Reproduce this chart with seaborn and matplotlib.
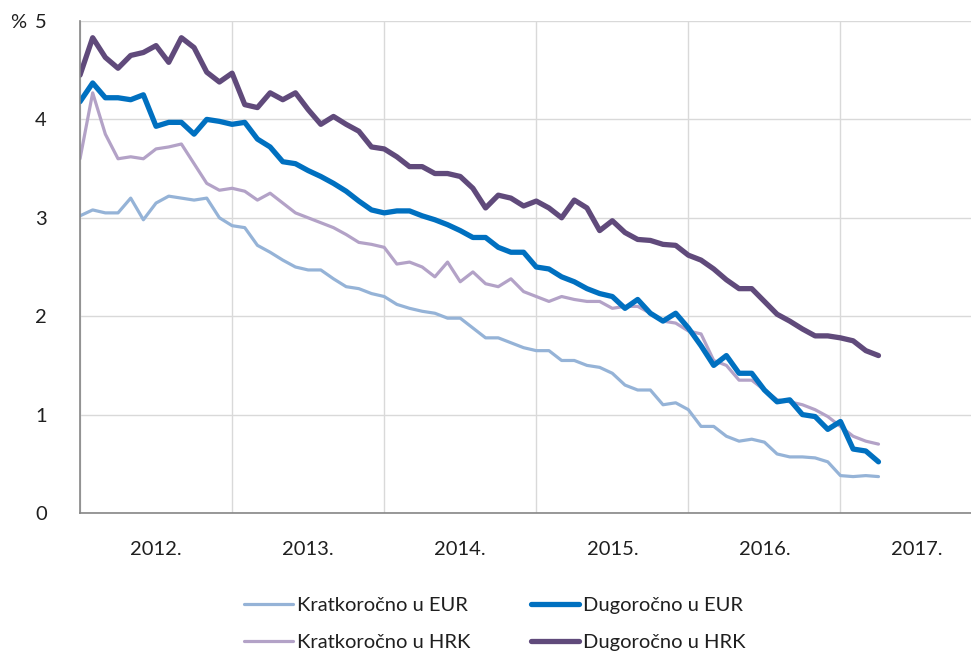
import numpy as np
import pandas as pd
import matplotlib
matplotlib.use("Agg")
import matplotlib.pyplot as plt
import seaborn as sns

# Monthly data, Jan 2012 - Apr 2017
kratko_eur = [3.02, 3.08, 3.05, 3.05, 3.20, 2.98, 3.15, 3.22, 3.20, 3.18, 3.20, 3.00,
              2.92, 2.90, 2.72, 2.65, 2.57, 2.50, 2.47, 2.47, 2.38, 2.30, 2.28, 2.23,
              2.20, 2.12, 2.08, 2.05, 2.03, 1.98, 1.98, 1.88, 1.78, 1.78, 1.73, 1.68,
              1.65, 1.65, 1.55, 1.55, 1.50, 1.48, 1.42, 1.30, 1.25, 1.25, 1.10, 1.12,
              1.05, 0.88, 0.88, 0.78, 0.73, 0.75, 0.72, 0.60, 0.57, 0.57, 0.56, 0.52,
              0.38, 0.37, 0.38, 0.37]
dugo_eur = [4.18, 4.37, 4.22, 4.22, 4.20, 4.25, 3.93, 3.97, 3.97, 3.85, 4.00, 3.98,
            3.95, 3.97, 3.80, 3.72, 3.57, 3.55, 3.48, 3.42, 3.35, 3.27, 3.17, 3.08,
            3.05, 3.07, 3.07, 3.02, 2.98, 2.93, 2.87, 2.80, 2.80, 2.70, 2.65, 2.65,
            2.50, 2.48, 2.40, 2.35, 2.28, 2.23, 2.20, 2.08, 2.17, 2.03, 1.95, 2.03,
            1.88, 1.70, 1.50, 1.60, 1.42, 1.42, 1.25, 1.13, 1.15, 1.00, 0.98, 0.85,
            0.93, 0.65, 0.63, 0.52]
kratko_hrk = [3.60, 4.27, 3.85, 3.60, 3.62, 3.60, 3.70, 3.72, 3.75, 3.55, 3.35, 3.28,
              3.30, 3.27, 3.18, 3.25, 3.15, 3.05, 3.00, 2.95, 2.90, 2.83, 2.75, 2.73,
              2.70, 2.53, 2.55, 2.50, 2.40, 2.55, 2.35, 2.45, 2.33, 2.30, 2.38, 2.25,
              2.20, 2.15, 2.20, 2.17, 2.15, 2.15, 2.08, 2.10, 2.10, 2.03, 1.95, 1.93,
              1.85, 1.82, 1.55, 1.50, 1.35, 1.35, 1.25, 1.15, 1.13, 1.10, 1.05, 0.98,
              0.88, 0.78, 0.73, 0.70]
dugo_hrk = [4.45, 4.83, 4.63, 4.52, 4.65, 4.68, 4.75, 4.58, 4.83, 4.73, 4.48, 4.38,
            4.47, 4.15, 4.12, 4.27, 4.20, 4.27, 4.10, 3.95, 4.03, 3.95, 3.88, 3.72,
            3.70, 3.62, 3.52, 3.52, 3.45, 3.45, 3.42, 3.30, 3.10, 3.23, 3.20, 3.12,
            3.17, 3.10, 3.00, 3.18, 3.10, 2.87, 2.97, 2.85, 2.78, 2.77, 2.73, 2.72,
            2.62, 2.57, 2.48, 2.37, 2.28, 2.28, 2.15, 2.02, 1.95, 1.87, 1.80, 1.80,
            1.78, 1.75, 1.65, 1.60]

series_names = ["Kratkoročno u EUR", "Kratkoročno u HRK", "Dugoročno u EUR", "Dugoročno u HRK"]
year_labels = ["2012.", "2013.", "2014.", "2015.", "2016.", "2017."]

colors = {"Kratkoročno u EUR": "#95B3D7", "Kratkoročno u HRK": "#B3A2C7",
          "Dugoročno u EUR": "#0070C0", "Dugoročno u HRK": "#604A7B"}
widths = {"Kratkoročno u EUR": 2.3, "Kratkoročno u HRK": 2.3,
          "Dugoročno u EUR": 3.8, "Dugoročno u HRK": 3.8}

values = {"Kratkoročno u EUR": kratko_eur, "Kratkoročno u HRK": kratko_hrk,
          "Dugoročno u EUR": dugo_eur, "Dugoročno u HRK": dugo_hrk}

sns.set_style("white")
plt.rcParams["font.family"] = ["Lato", "DejaVu Sans"]

txt_color = "#1f1f1f"

fig = plt.figure(figsize=(9.71, 6.62), dpi=100)
ax = fig.add_axes([80 / 971, 149 / 662, 891 / 971, 492 / 662])

draw_order = ["Kratkoročno u EUR", "Kratkoročno u HRK", "Dugoročno u EUR", "Dugoročno u HRK"]
for name in draw_order:
    df = pd.DataFrame({"m": np.arange(len(values[name])), "v": values[name]})
    sns.lineplot(data=df, x="m", y="v", ax=ax, color=colors[name],
                 linewidth=widths[name], label=name, legend=False)

ax.set_xlim(0, 70.3)
ax.set_ylim(0, 5)
ax.set_xlabel("")
ax.set_ylabel("")

ax.set_yticks([0, 1, 2, 3, 4, 5])
ax.set_yticklabels(["0", "1", "2", "3", "4", "5"], fontsize=14.5, color=txt_color)
ax.set_xticks([0, 12, 24, 36, 48, 60])
ax.set_xticklabels([])
ax.set_xticks([6, 18, 30, 42, 54, 66], minor=True)
ax.set_xticklabels(year_labels, minor=True, fontsize=14.5, color=txt_color)
ax.tick_params(axis="x", which="major", direction="out", length=6, color="#868686", width=1)
ax.tick_params(axis="x", which="minor", length=0, pad=20)
ax.tick_params(axis="y", direction="out", length=6, color="#868686", width=1, pad=18)

ax.grid(True, which="major", color="#D9D9D9", linewidth=1)
for s in ["top", "right"]:
    ax.spines[s].set_visible(False)
for s in ["left", "bottom"]:
    ax.spines[s].set_color("#868686")
    ax.spines[s].set_linewidth(1.2)

fig.text(10 / 971, 1 - 22 / 662, "%", fontsize=14.5, color=txt_color, va="center", ha="left")

handles = []
labels = []
for name in series_names:
    h, = ax.plot([], [], color=colors[name], linewidth=widths[name])
    handles.append(h)
    labels.append(name)
fig.legend(handles, labels, ncol=2, loc="center", bbox_to_anchor=(495 / 971, 1 - 624 / 662),
           frameon=False, fontsize=14.5, handlelength=2.4, handletextpad=0.2,
           columnspacing=3.0, labelspacing=0.95, labelcolor=txt_color)

fig.savefig("out.png", dpi=100)
